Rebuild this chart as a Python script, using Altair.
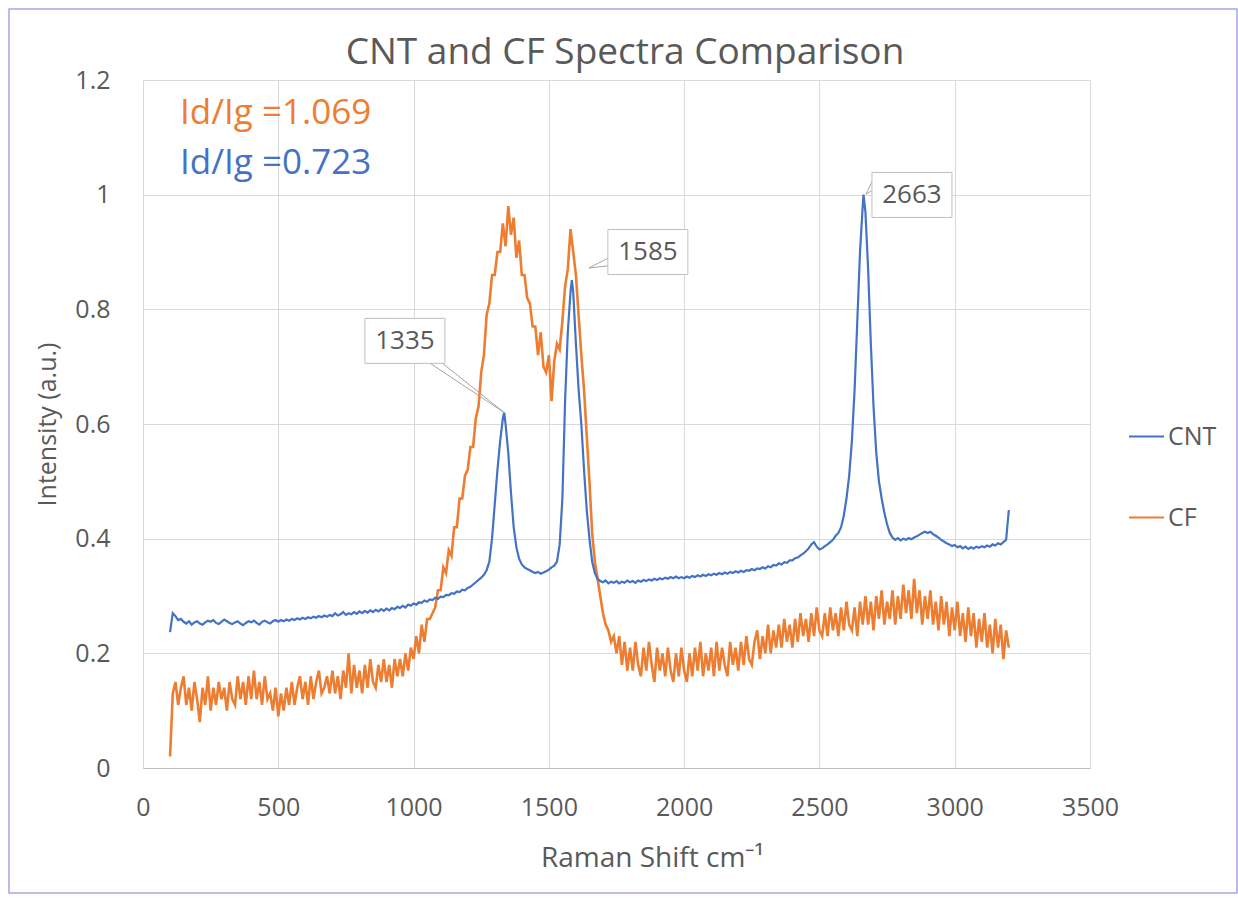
import altair as alt
import pandas as pd

# ---------------- data ----------------
X_START = 100
X_STEP = 10

cnt_y = [
    0.237, 0.270, 0.265, 0.258, 0.260, 0.255, 0.252, 0.256, 0.250, 0.254,
    0.256, 0.252, 0.250, 0.254, 0.257, 0.255, 0.258, 0.253, 0.251, 0.255,
    0.259, 0.256, 0.253, 0.251, 0.254, 0.256, 0.252, 0.249, 0.253, 0.256,
    0.254, 0.257, 0.253, 0.250, 0.255, 0.257, 0.254, 0.252, 0.256, 0.258,
    0.255, 0.258, 0.256, 0.259, 0.257, 0.260, 0.258, 0.261, 0.259, 0.262,
    0.260, 0.263, 0.261, 0.264, 0.262, 0.265, 0.263, 0.266, 0.264, 0.267,
    0.265, 0.270, 0.266, 0.268, 0.272, 0.267, 0.270, 0.268, 0.272, 0.269,
    0.273, 0.270, 0.274, 0.271, 0.275, 0.272, 0.276, 0.273, 0.277, 0.274,
    0.278, 0.275, 0.279, 0.277, 0.281, 0.279, 0.283, 0.280, 0.285, 0.283,
    0.287, 0.285, 0.289, 0.288, 0.292, 0.290, 0.294, 0.293, 0.297, 0.295,
    0.299, 0.298, 0.302, 0.301, 0.305, 0.304, 0.308, 0.307, 0.311, 0.310,
    0.314, 0.316, 0.320, 0.324, 0.328, 0.332, 0.337, 0.345, 0.360, 0.400,
    0.460, 0.520, 0.570, 0.610, 0.600, 0.550, 0.480, 0.420, 0.385, 0.365,
    0.355, 0.350, 0.347, 0.345, 0.342, 0.340, 0.342, 0.339, 0.341, 0.343,
    0.346, 0.350, 0.353, 0.360, 0.390, 0.470, 0.640, 0.760, 0.830, 0.830,
    0.740, 0.660, 0.600, 0.520, 0.450, 0.400, 0.360, 0.340, 0.330, 0.326,
    0.324, 0.327, 0.322, 0.325, 0.323, 0.326, 0.322, 0.325, 0.323, 0.327,
    0.324, 0.326, 0.323, 0.327, 0.325, 0.328, 0.326, 0.329, 0.327, 0.330,
    0.328, 0.331, 0.329, 0.332, 0.330, 0.333, 0.331, 0.334, 0.331, 0.333,
    0.331, 0.334, 0.332, 0.335, 0.333, 0.336, 0.334, 0.337, 0.335, 0.338,
    0.336, 0.339, 0.337, 0.340, 0.338, 0.341, 0.339, 0.342, 0.340, 0.343,
    0.341, 0.344, 0.342, 0.345, 0.344, 0.347, 0.345, 0.348, 0.347, 0.350,
    0.348, 0.352, 0.350, 0.354, 0.353, 0.357, 0.355, 0.359, 0.358, 0.362,
    0.362, 0.366, 0.367, 0.371, 0.374, 0.378, 0.383, 0.390, 0.394, 0.386,
    0.381, 0.383, 0.387, 0.390, 0.394, 0.398, 0.405, 0.410, 0.420, 0.440,
    0.470, 0.510, 0.570, 0.660, 0.780, 0.900, 0.980, 0.970, 0.870, 0.740,
    0.630, 0.550, 0.500, 0.470, 0.445, 0.425, 0.410, 0.402, 0.398, 0.401,
    0.397, 0.400, 0.398, 0.401, 0.399, 0.402, 0.404, 0.407, 0.410, 0.412,
    0.410, 0.412, 0.408, 0.405, 0.402, 0.398, 0.395, 0.392, 0.390, 0.387,
    0.389, 0.385, 0.387, 0.383, 0.386, 0.382, 0.385, 0.383, 0.386, 0.384,
    0.387, 0.385, 0.388, 0.386, 0.390, 0.388, 0.392, 0.390, 0.394, 0.398,
    0.450,
]

# CNT peak maxima (between grid samples)
cnt_peak_x = [1335, 1585, 2663]
cnt_peak_y = [0.620, 0.851, 1.000]

cf_y = [
    0.02, 0.13, 0.15, 0.11, 0.14, 0.16, 0.11, 0.14, 0.10, 0.15,
    0.12, 0.08, 0.14, 0.11, 0.16, 0.10, 0.14, 0.11, 0.15, 0.12,
    0.14, 0.10, 0.15, 0.12, 0.11, 0.16, 0.12, 0.15, 0.11, 0.16,
    0.12, 0.17, 0.12, 0.15, 0.11, 0.16, 0.12, 0.13, 0.10, 0.14,
    0.09, 0.13, 0.10, 0.14, 0.11, 0.15, 0.11, 0.14, 0.16, 0.12,
    0.15, 0.11, 0.16, 0.12, 0.15, 0.17, 0.13, 0.14, 0.16, 0.13,
    0.17, 0.13, 0.16, 0.12, 0.17, 0.14, 0.20, 0.13, 0.18, 0.14,
    0.17, 0.13, 0.18, 0.14, 0.19, 0.15, 0.14, 0.18, 0.15, 0.19,
    0.15, 0.18, 0.14, 0.19, 0.16, 0.19, 0.16, 0.20, 0.17, 0.21,
    0.19, 0.23, 0.20, 0.25, 0.22, 0.26, 0.26, 0.27, 0.28, 0.31,
    0.31, 0.35, 0.34, 0.38, 0.37, 0.42, 0.42, 0.47, 0.47, 0.51,
    0.52, 0.56, 0.56, 0.61, 0.63, 0.69, 0.72, 0.79, 0.81, 0.86,
    0.86, 0.90, 0.90, 0.95, 0.91, 0.98, 0.93, 0.96, 0.89, 0.92,
    0.86, 0.86, 0.82, 0.81, 0.77, 0.77, 0.72, 0.76, 0.70, 0.69,
    0.72, 0.64, 0.71, 0.74, 0.73, 0.78, 0.84, 0.87, 0.94, 0.90,
    0.86, 0.79, 0.72, 0.66, 0.58, 0.50, 0.41, 0.36, 0.33, 0.30,
    0.27, 0.25, 0.24, 0.22, 0.23, 0.20, 0.23, 0.18, 0.22, 0.17,
    0.21, 0.17, 0.22, 0.18, 0.16, 0.21, 0.17, 0.22, 0.18, 0.15,
    0.21, 0.17, 0.20, 0.16, 0.21, 0.17, 0.15, 0.20, 0.16, 0.21,
    0.17, 0.15, 0.20, 0.16, 0.21, 0.17, 0.22, 0.16, 0.20, 0.17,
    0.21, 0.16, 0.22, 0.17, 0.21, 0.18, 0.16, 0.22, 0.18, 0.21,
    0.17, 0.22, 0.18, 0.23, 0.19, 0.18, 0.22, 0.24, 0.19, 0.23,
    0.20, 0.25, 0.20, 0.24, 0.21, 0.25, 0.21, 0.26, 0.22, 0.25,
    0.21, 0.26, 0.22, 0.27, 0.23, 0.26, 0.22, 0.27, 0.23, 0.28,
    0.24, 0.23, 0.27, 0.23, 0.28, 0.24, 0.27, 0.23, 0.28, 0.24,
    0.29, 0.25, 0.24, 0.28, 0.23, 0.29, 0.25, 0.30, 0.25, 0.29,
    0.24, 0.30, 0.26, 0.31, 0.25, 0.29, 0.26, 0.31, 0.25, 0.30,
    0.26, 0.32, 0.27, 0.31, 0.26, 0.33, 0.27, 0.31, 0.25, 0.30,
    0.26, 0.31, 0.25, 0.29, 0.24, 0.30, 0.25, 0.29, 0.23, 0.28,
    0.24, 0.29, 0.23, 0.27, 0.22, 0.28, 0.23, 0.27, 0.21, 0.26,
    0.22, 0.27, 0.21, 0.25, 0.20, 0.26, 0.21, 0.25, 0.19, 0.24,
    0.21,
]

series_names = ["CNT", "CF"]
series_colors = ["#4472C4", "#ED7D31"]

chart_title = "CNT and CF Spectra Comparison"

# data callouts
label_text = ["1335", "1585", "2663"]
label_x = [968, 1866, 2842]
label_y = [0.745, 0.900, 0.9995]

leader_x1 = [1061, 1101, 1722, 1722, 2698, 2698]
leader_y1 = [0.706, 0.708, 0.890, 0.876, 1.026, 1.008]
leader_x2 = [1335, 1335, 1648, 1648, 2672, 2672]
leader_y2 = [0.620, 0.620, 0.872, 0.872, 1.001, 1.001]

ratio_text = ["Id/Ig =1.069", "Id/Ig =0.723"]
ratio_color = ["#ED7D31", "#4472C4"]
ratio_x = [137, 137]
ratio_y = [1.142, 1.055]

x_ticks = [0, 500, 1000, 1500, 2000, 2500, 3000, 3500]
y_ticks = [0, 0.2, 0.4, 0.6, 0.8, 1.0, 1.2]

# ---------------- tables ----------------
cnt_x = [X_START + X_STEP * i for i in range(len(cnt_y))]
df_cnt = pd.DataFrame({"x": cnt_x + cnt_peak_x, "y": cnt_y + cnt_peak_y})
df_cnt = df_cnt.sort_values("x").reset_index(drop=True)
df_cnt["series"] = "CNT"

cf_x = [X_START + X_STEP * i for i in range(len(cf_y))]
df_cf = pd.DataFrame({"x": cf_x, "y": cf_y, "series": "CF"})

df_labels = pd.DataFrame({"x": label_x, "y": label_y, "t": label_text})
df_leaders = pd.DataFrame({"x": leader_x1, "y": leader_y1,
                           "x2": leader_x2, "y2": leader_y2})
df_ratio = pd.DataFrame({"x": ratio_x, "y": ratio_y, "t": ratio_text,
                         "c": ratio_color})

FONT = "Open Sans"
GREY = "#595959"

xscale = alt.Scale(domain=[0, 3500], nice=False, zero=False)
yscale = alt.Scale(domain=[0, 1.2], nice=False)

xaxis = alt.Axis(values=x_ticks, title="Raman Shift cm⁻¹", grid=True,
                 gridColor="#d9d9d9", domainColor="#bfbfbf", ticks=False,
                 labelPadding=27, labelFontSize=25, labelColor=GREY,
                 labelFont=FONT, labelFlush=False, titleFont=FONT,
                 titleFontSize=28, titleColor=GREY, titleFontWeight="normal",
                 titlePadding=24, titleX=509, titleAlign="center", format="d")
yaxis = alt.Axis(values=y_ticks, title="Intensity (a.u.)", grid=True,
                 gridColor="#d9d9d9", domain=False, ticks=False,
                 labelPadding=33, labelFontSize=25, labelColor=GREY,
                 labelFont=FONT, labelFlush=False, titleFont=FONT,
                 titleFontSize=25, titleColor=GREY, titleFontWeight="normal",
                 titlePadding=14,
                 labelExpr="datum.value == 0 ? '0' : datum.value == 1 ? '1' : format(datum.value, '.1f')")

color = alt.Color("series:N",
                  scale=alt.Scale(domain=series_names, range=series_colors),
                  legend=alt.Legend(title=None, orient="none", legendX=985,
                                    legendY=338, symbolType="stroke",
                                    symbolStrokeWidth=2, symbolSize=1225,
                                    labelFontSize=25, labelColor=GREY,
                                    labelFont=FONT, rowPadding=49,
                                    labelOffset=3))

cf_line = alt.Chart(df_cf).mark_line(strokeWidth=2.6).encode(
    x=alt.X("x:Q", scale=xscale, axis=xaxis),
    y=alt.Y("y:Q", scale=yscale, axis=yaxis),
    color=color,
)
cnt_line = alt.Chart(df_cnt).mark_line(strokeWidth=2.2).encode(
    x=alt.X("x:Q", scale=xscale),
    y=alt.Y("y:Q", scale=yscale),
    color=color,
)

leaders = alt.Chart(df_leaders).mark_rule(color="#a6a6a6", strokeWidth=1).encode(
    x="x:Q", y="y:Q", x2="x2:Q", y2="y2:Q")

boxes = alt.Chart(df_labels).mark_rect(width=80, height=45, fill="white",
                                       stroke="#bfbfbf", strokeWidth=1).encode(
    x="x:Q", y="y:Q")
box_text = alt.Chart(df_labels).mark_text(fontSize=26, font=FONT, color=GREY,
                                          align="center", baseline="middle").encode(
    x="x:Q", y="y:Q", text="t:N")

ratios = alt.Chart(df_ratio).mark_text(fontSize=35, font=FONT, align="left",
                                       baseline="middle").encode(
    x="x:Q", y="y:Q", text="t:N", color=alt.Color("c:N", scale=None))

title_mark = alt.Chart(pd.DataFrame({"t": [chart_title]})).mark_text(
    fontSize=37, font=FONT, color=GREY, align="center", baseline="middle").encode(
    x=alt.value(482), y=alt.value(-27), text="t:N")

frame = alt.Chart(pd.DataFrame({"a": [0]})).mark_rect(
    filled=False, stroke="#a3a6e8", strokeWidth=1.5).encode(
    x=alt.value(-134), x2=alt.value(1094), y=alt.value(-71), y2=alt.value(813))

chart = alt.layer(frame, cf_line, cnt_line, leaders, boxes, box_text, ratios,
                  title_mark).properties(
    width=947, height=688,
    padding={"left": 143, "top": 80, "right": 148, "bottom": 135},
    autosize=alt.AutoSizeParams(type="none"),
    background="white",
).configure_view(stroke=None)

chart.save("out.html", embed_options={"renderer": "svg", "actions": False})
